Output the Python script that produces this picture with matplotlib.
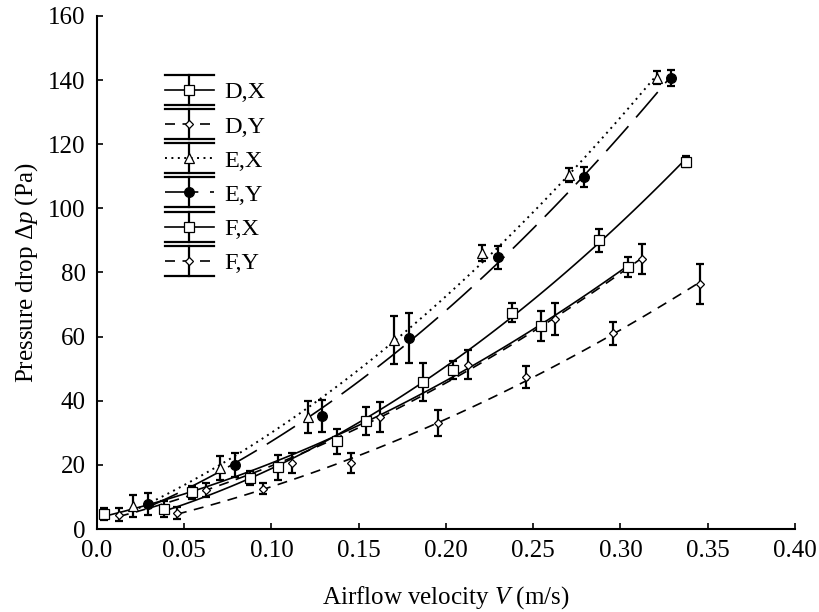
import numpy as np
import matplotlib
matplotlib.use("Agg")
import matplotlib.pyplot as plt
from matplotlib.lines import Line2D
from matplotlib.legend_handler import HandlerBase

plt.rcParams['font.family'] = ['Liberation Serif', 'DejaVu Serif']
plt.rcParams['mathtext.fontset'] = 'custom'
plt.rcParams['mathtext.rm'] = 'Liberation Serif'
plt.rcParams['mathtext.it'] = 'Liberation Serif:italic'

# data
dx_v = [0.004, 0.0544, 0.1037, 0.154, 0.204, 0.2544, 0.3043]
dx_p = [4.7, 11.5, 19.3, 33.7, 49.6, 63.3, 81.7]
dx_e = [2.0, 2.0, 3.9, 4.5, 2.8, 4.7, 3.0]

dy_v = [0.0126, 0.0625, 0.1117, 0.162, 0.2126, 0.2625, 0.3123]
dy_p = [4.4, 12.2, 20.6, 34.9, 51.2, 65.5, 84.2]
dy_e = [2.0, 2.2, 3.0, 4.8, 4.5, 5.0, 4.8]

ex_v = [0.0206, 0.0705, 0.121, 0.170, 0.2206, 0.2705, 0.321]
ex_p = [7.2, 19.0, 34.9, 59.0, 86.1, 110.4, 140.7]
ex_e = [3.3, 3.8, 5.0, 7.5, 2.5, 2.2, 2.0]

ey_v = [0.029, 0.079, 0.129, 0.179, 0.2298, 0.279, 0.329]
ey_p = [7.8, 20.0, 35.2, 59.6, 84.8, 109.8, 140.7]
ey_e = [3.3, 3.8, 5.0, 7.8, 3.6, 3.0, 2.5]

fx_v = [0.0384, 0.0877, 0.1375, 0.187, 0.2378, 0.2877, 0.3375]
fx_p = [6.2, 15.9, 27.4, 45.9, 67.4, 90.1, 114.5]
fx_e = [2.4, 2.2, 3.9, 6.0, 3.0, 3.6, 1.7]

fy_v = [0.0458, 0.095, 0.1456, 0.1954, 0.2458, 0.2957, 0.3455]
fy_p = [5.0, 12.5, 20.6, 33.0, 47.4, 61.1, 76.4]
fy_e = [2.0, 1.7, 3.0, 4.0, 3.5, 3.6, 6.3]

labels = ['D,X', 'D,Y', 'E,X', 'E,Y', 'F,X', 'F,Y']
xticks = [0.0, 0.05, 0.10, 0.15, 0.20, 0.25, 0.30, 0.35, 0.40]
xticklabels = ['0.0', '0.05', '0.10', '0.15', '0.20', '0.25', '0.30', '0.35', '0.40']
yticks = [0, 20, 40, 60, 80, 100, 120, 140, 160]

short_dash = (0, (6, 4.5))
series = [
    (dx_v, dx_p, dx_e, 's', 'white', 7.5, '-', 1.2),
    (dy_v, dy_p, dy_e, 'D', 'white', 4.5, short_dash, 1.2),
    (ex_v, ex_p, ex_e, '^', 'white', 6.5, (0, (1, 2.3)), 1.4),
    (ey_v, ey_p, ey_e, 'o', 'black', 7, (0, (20, 7)), 1.2),
    (fx_v, fx_p, fx_e, 's', 'white', 7.5, '-', 1.2),
    (fy_v, fy_p, fy_e, 'D', 'white', 4.5, short_dash, 1.2),
]


class CapHandler(HandlerBase):
    # legend key: line + marker + error bar with caps as wide as the key
    def __init__(self, ls, **kw):
        super().__init__(**kw)
        self.ls = ls

    def create_artists(self, legend, orig, xdescent, ydescent, width, height,
                       fontsize, trans):
        x0, x1 = -xdescent, width - xdescent
        cy = (height - ydescent) / 2
        xm = (x0 + x1) / 2
        h = 0.62 * fontsize
        ln = Line2D([x0, x1], [cy, cy], color='black', lw=orig.get_linewidth(),
                    ls=self.ls)
        vb = Line2D([xm, xm], [cy - h, cy + h], color='black', lw=1.6)
        c1 = Line2D([x0, x1], [cy + h, cy + h], color='black', lw=1.6)
        c2 = Line2D([x0, x1], [cy - h, cy - h], color='black', lw=1.6)
        mk = Line2D([xm], [cy], ls='none', marker=orig.get_marker(),
                    mfc=orig.get_markerfacecolor(), mec='black', mew=0.9,
                    ms=orig.get_markersize())
        arts = [ln, vb, c1, c2, mk]
        for a in arts:
            a.set_transform(trans)
        return arts


fig = plt.figure(figsize=(8.19, 6.12), dpi=100)
ax = fig.add_axes([0.1184, 0.1356, 0.8523, 0.8384])

handles = []
hmap = {}
for (v, p, e, mk, fc, ms, ls, lw), lab in zip(series, labels):
    # smooth fitted curve like the original plot
    c = np.polyfit(v, p, 2)
    xs = np.linspace(min(v), max(v), 100)
    ax.plot(xs, np.polyval(c, xs), color='black', lw=lw, ls=ls, zorder=2)
    ax.errorbar(v, p, yerr=e, fmt='none', ecolor='black', elinewidth=1.6,
                capsize=3, capthick=1.6, zorder=3)
    ax.plot(v, p, ls='none', marker=mk, mfc=fc, mec='black', mew=0.9,
            ms=ms, zorder=4)
    h = Line2D([], [], color='black', lw=lw, marker=mk, mfc=fc,
               mec='black', ms=ms)
    handles.append(h)
    hmap[h] = CapHandler(ls)

ax.set_xlim(0, 0.40)
ax.set_ylim(0, 160)
ax.set_xticks(xticks)
ax.set_xticklabels(xticklabels)
ax.set_yticks(yticks)
ax.spines['top'].set_visible(False)
ax.spines['right'].set_visible(False)
ax.spines['left'].set_linewidth(1.5)
ax.spines['bottom'].set_linewidth(1.5)
ax.tick_params(direction='in', length=4, width=1.2, labelsize=18, pad=8)

ax.set_xlabel('Airflow velocity $\\mathit{V}$ (m/s)', fontsize=18, labelpad=16)
ax.set_ylabel('Pressure drop $\\Delta\\mathit{p}$ (Pa)', fontsize=18, labelpad=6)

ax.legend(handles=handles, labels=labels, loc='upper left',
          bbox_to_anchor=(0.066, 0.915), frameon=False, fontsize=17.5,
          handlelength=2.0, labelspacing=0.5, handletextpad=0.45,
          handler_map=hmap)

fig.savefig('out.png', dpi=100)
